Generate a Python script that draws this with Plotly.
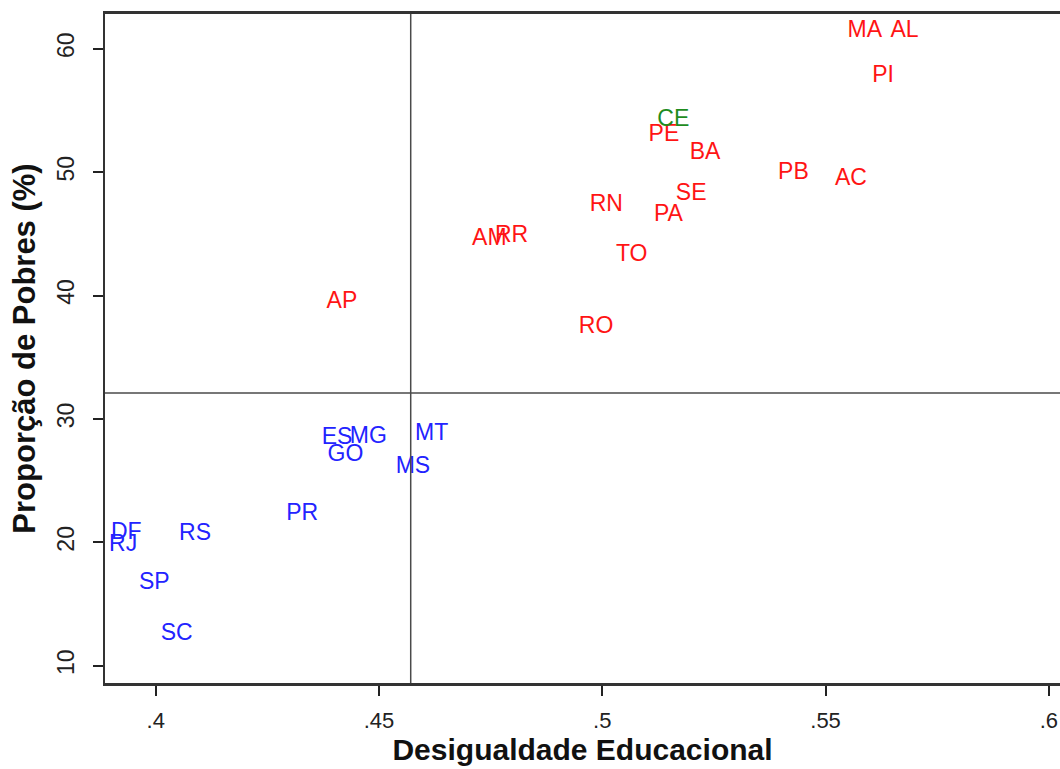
import plotly.graph_objects as go

# Brazilian states: educational inequality (x) vs. share of poor people (y, %)
states = ["MA", "AL", "PI", "PB", "AC", "CE", "PE", "BA", "SE", "RN", "PA",
          "AM", "RR", "TO", "RO", "AP",
          "DF", "RJ", "RS", "SP", "SC", "PR", "ES", "MG", "GO", "MT", "MS"]
desigualdade = [0.5588, 0.5677, 0.5629, 0.5428, 0.5557, 0.5159, 0.5138, 0.5230,
                0.5199, 0.5009, 0.5148, 0.4747, 0.4797, 0.5066, 0.4986, 0.4417,
                0.3934, 0.3927, 0.4088, 0.3997, 0.4047, 0.4328, 0.4406, 0.4476,
                0.4425, 0.4618, 0.4576]
pobres = [61.38, 61.38, 57.73, 49.91, 49.45, 54.17, 53.01, 51.53, 48.24, 47.34,
          46.53, 44.57, 44.83, 43.30, 37.41, 39.45,
          20.70, 19.76, 20.68, 16.71, 12.53, 22.24, 28.45, 28.53, 27.02, 28.72,
          26.10]
grupo = ["alto", "alto", "alto", "alto", "alto", "destaque", "alto", "alto",
         "alto", "alto", "alto", "alto", "alto", "alto", "alto", "alto",
         "baixo", "baixo", "baixo", "baixo", "baixo", "baixo", "baixo", "baixo",
         "baixo", "baixo", "baixo"]

# Reference lines (means of each variable)
media_desigualdade = 0.4571
media_pobres = 32.1

x_ticks = [0.4, 0.45, 0.5, 0.55, 0.6]
x_tick_text = [".4", ".45", ".5", ".55", ".6"]
y_ticks = [10, 20, 30, 40, 50, 60]

cores = {"alto": "#ff1414", "baixo": "#2323ff", "destaque": "#1e8c1e"}

fig = go.Figure()
for g in ["alto", "baixo", "destaque"]:
    idx = [i for i, v in enumerate(grupo) if v == g]
    fig.add_trace(go.Scatter(
        x=[desigualdade[i] for i in idx],
        y=[pobres[i] for i in idx],
        text=[states[i] for i in idx],
        mode="text",
        textposition="middle center",
        textfont=dict(family="Liberation Sans, Arial", size=23, color=cores[g]),
        showlegend=False,
        hoverinfo="skip",
    ))

fig.add_shape(type="line", xref="x", yref="paper",
              x0=media_desigualdade, x1=media_desigualdade, y0=0, y1=1,
              line=dict(color="#4a4a4a", width=1.5))
fig.add_shape(type="line", xref="paper", yref="y",
              x0=0, x1=1, y0=media_pobres, y1=media_pobres,
              line=dict(color="#4a4a4a", width=1.5))

fig.update_layout(
    width=1060, height=769,
    margin=dict(l=105, r=0, t=14, b=86),
    paper_bgcolor="white", plot_bgcolor="white",
    font=dict(family="Liberation Sans, Arial", color="#222222"),
)
fig.update_xaxes(
    range=[0.38864, 0.6025],
    tickvals=x_ticks, ticktext=x_tick_text,
    ticks="outside", ticklen=10, tickwidth=1.5, tickcolor="#222222",
    tickfont=dict(size=22, color="#222222"),
    ticklabelstandoff=6,
    showgrid=False, zeroline=False,
    showline=True, linecolor="#333333", linewidth=3, mirror=True,
    title=dict(text="Desigualdade Educacional", standoff=6,
               font=dict(size=30, weight="bold", color="#111111")),
    automargin=False,
)
fig.update_yaxes(
    range=[8.6, 62.81],
    tickvals=y_ticks,
    ticks="outside", ticklen=10, tickwidth=1.5, tickcolor="#222222",
    tickfont=dict(size=23, color="#222222"),
    tickangle=-90,
    ticklabelstandoff=10,
    showgrid=False, zeroline=False,
    showline=True, linecolor="#333333", linewidth=2,
    title=dict(text="Proporção de Pobres (%)", standoff=8,
               font=dict(size=31, weight="bold", color="#111111")),
    automargin=False,
)

fig.write_html("out.html")
